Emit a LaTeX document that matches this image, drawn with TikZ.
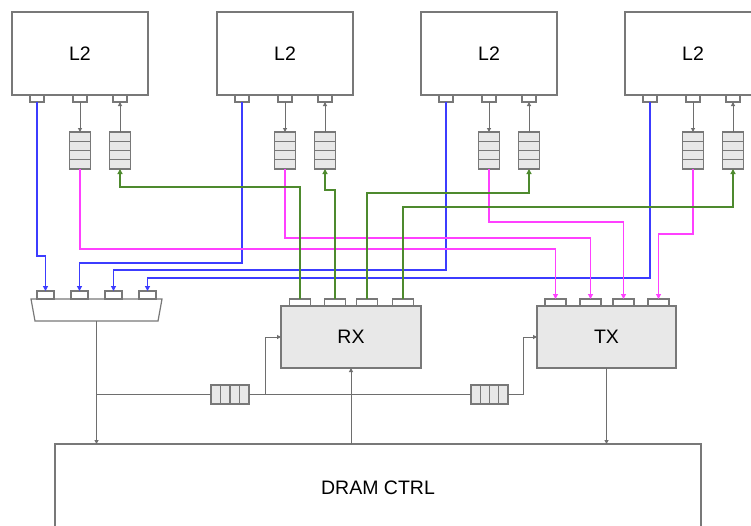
\documentclass[tikz,border=0pt]{standalone}
\usepackage{fontspec}
\setmainfont{Liberation Sans}
\usetikzlibrary{arrows.meta,calc}
\definecolor{bord}{RGB}{120,120,120}
\definecolor{fillg}{RGB}{232,232,232}
\definecolor{blu}{RGB}{60,60,255}
\definecolor{mag}{RGB}{255,64,255}
\definecolor{grn}{RGB}{78,138,46}
\definecolor{lng}{RGB}{110,110,110}
\begin{document}
\begin{tikzpicture}[x=1pt,y=-1pt,
 box/.style={draw=bord,line width=1.2pt,inner sep=0pt,outer sep=0pt},
 bigfont/.style={font=\fontsize{19.5}{22}\selectfont},
 l2box/.style={box,fill=white,minimum width=136pt,minimum height=83pt,bigfont},
 unitbox/.style={box,fill=fillg,minimum width=140pt,minimum height=62pt,bigfont},
 dram/.style={box,fill=white,minimum width=646pt,minimum height=88pt,bigfont},
 port/.style={box,fill=white,minimum width=14pt,minimum height=7pt},
 bport/.style={box,fill=white,minimum width=21pt,minimum height=7pt},
 mport/.style={box,fill=white,minimum width=17pt,minimum height=8pt},
 vq/.style={box,fill=fillg,minimum width=21pt,minimum height=37pt,
   path picture={\foreach \f in {0.25,0.5,0.75}{\draw[bord,line width=1.2pt]
     ($(path picture bounding box.north west)!\f!(path picture bounding box.south west)$) --
     ($(path picture bounding box.north east)!\f!(path picture bounding box.south east)$);}}},
 hq/.style={box,fill=fillg,minimum width=38pt,minimum height=19pt,
   path picture={\foreach \f in {0.25,0.5,0.75}{\draw[bord,line width=1.2pt]
     ($(path picture bounding box.north west)!\f!(path picture bounding box.north east)$) --
     ($(path picture bounding box.south west)!\f!(path picture bounding box.south east)$);}}},
 tipc/.style={-{Triangle[length=5pt,width=5pt]}},
 tipk/.style={-{Triangle[length=4pt,width=4pt]}},
 bline/.style={blu,line width=1.2pt,tipc},
 mline/.style={mag,line width=1.2pt,tipc},
 gline/.style={grn,line width=1.2pt,tipc},
 kline/.style={lng,line width=1pt},
]
\useasboundingbox (0,0) rectangle (751,525);
\clip (0,0) rectangle (751,525);
\fill[white] (0,0) rectangle (751,525);

% L2 blocks with ports and queues
\foreach \i/\L in {1/12,2/217,3/421,4/625}{
  \node[l2box] (L\i) at (\L+68,53.5) {L2};
  \node[port] (pa\i) at (\L+25,98.5) {};
  \node[port] (pb\i) at (\L+68,98.5) {};
  \node[port] (pc\i) at (\L+108,98.5) {};
  \node[vq] (qa\i) at (\L+68,150.5) {};
  \node[vq] (qb\i) at (\L+108,150.5) {};
  \draw[kline,tipk] (pb\i.south) -- (qa\i.north);
  \draw[kline,tipk] (qb\i.north) -- (pc\i.south);
}

% mux
\draw[bord,line width=1.2pt,fill=white] (31,299) -- (162,299) -- (158,321) -- (35,321) -- cycle;
\coordinate (muxout) at (96.5,321);
\foreach \j/\x in {1/45.5,2/79.5,3/113.5,4/147.5}{
  \node[mport] (mp\j) at (\x,295) {};
}

% RX and TX
\node[unitbox] (rx) at (351,337) {RX};
\node[unitbox,minimum width=139pt] (tx) at (606.5,337) {TX};
\foreach \j/\x in {1/300,2/335,3/367,4/403}{
  \node[bport] (rp\j) at (\x,302.5) {};
}
\foreach \j/\x in {1/555.5,2/590.5,3/623.5,4/658.5}{
  \node[bport] (tp\j) at (\x,302.5) {};
}

% DRAM
\node[dram] (dram) at (378,488) {DRAM CTRL};

% blue lines
\draw[bline] (pa1.south) |- (mp1.north |- 0,256) -- (mp1.north);
\draw[bline] (pa2.south) |- (mp2.north |- 0,263) -- (mp2.north);
\draw[bline] (pa3.south) |- (mp3.north |- 0,270) -- (mp3.north);
\draw[bline] (pa4.south) |- (mp4.north |- 0,278) -- (mp4.north);

% magenta lines
\draw[mline] (qa1.south) |- (tp1.north |- 0,249) -- (tp1.north);
\draw[mline] (qa2.south) |- (tp2.north |- 0,238) -- (tp2.north);
\draw[mline] (qa3.south) |- (tp3.north |- 0,222) -- (tp3.north);
\draw[mline] (qa4.south) |- (tp4.north |- 0,234) -- (tp4.north);

% green lines
\draw[gline] (rp1.north) |- (qb1.south |- 0,187) -- (qb1.south);
\draw[gline] (rp2.north) |- (qb2.south |- 0,190) -- (qb2.south);
\draw[gline] (rp3.north) |- (qb3.south |- 0,193) -- (qb3.south);
\draw[gline] (rp4.north) |- (qb4.south |- 0,207) -- (qb4.south);

% bottom network
\node[hq] (hq1) at (230,394.5) {};
\node[hq,minimum width=37pt] (hq2) at (489.5,394.5) {};
\coordinate (j1) at (96.5,394.5);
\coordinate (j2) at (265,394.5);
\coordinate (j3) at (523,394.5);
\draw[kline,tipk] (muxout) -- (muxout |- dram.north);
\draw[kline] (j1) -- (hq1.west);
\draw[kline] (hq1.east) -- (j2) -- (hq2.west);
\draw[kline,tipk] (j2) |- (rx.west);
\draw[kline,tipk] (hq2.east) -- (j3) |- (tx.west);
\draw[kline,tipk] (rx.south |- dram.north) -- (rx.south);
\draw[kline,tipk] (tx.south) -- (tx.south |- dram.north);
\end{tikzpicture}
\end{document}
